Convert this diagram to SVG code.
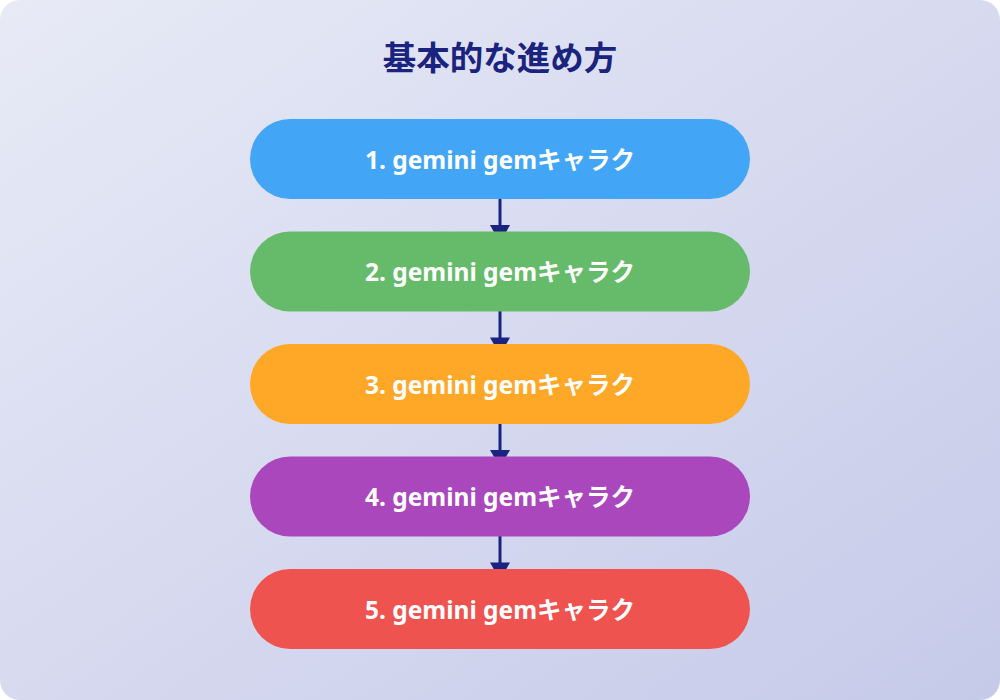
<svg xmlns="http://www.w3.org/2000/svg" width="1000" height="700" viewBox="0 0 1000 700">
<defs>
<linearGradient id="bg" x1="0" y1="0" x2="1" y2="1">
<stop offset="0" stop-color="#e8eaf6"/>
<stop offset="1" stop-color="#c5cae9"/>
</linearGradient>
<style>
.node rect{rx:40px}
.lbl{font-family:"Noto Sans","Noto Sans CJK JP",sans-serif;font-weight:700;font-size:24.5px;fill:#ffffff;text-anchor:middle;dominant-baseline:central}
.title{font-family:"Noto Sans CJK JP","Noto Sans",sans-serif;font-weight:700;font-size:33.5px;fill:#1a237e;text-anchor:middle;dominant-baseline:central}
.conn line{stroke:#1a237e;stroke-width:3}
.conn polygon{fill:#1a237e}
</style>
</defs>
<rect x="0" y="0" width="1000" height="700" fill="#ffffff"/>
<rect x="0" y="0" width="1000" height="700" rx="20" fill="url(#bg)"/>
<text class="title" x="500" y="55">基本的な進め方</text>
<g id="connectors" class="conn">
<line x1="500" y1="199" x2="500" y2="226"/><polygon points="490,225 510,225 500,243"/>
<line x1="500" y1="311" x2="500" y2="338"/><polygon points="490,337.5 510,337.5 500,355"/>
<line x1="500" y1="424" x2="500" y2="451"/><polygon points="490,450 510,450 500,467"/>
<line x1="500" y1="536" x2="500" y2="563"/><polygon points="490,562.5 510,562.5 500,580"/>
</g>
<g id="node1" class="node"><rect x="250" y="119" width="500" height="80" fill="#42a5f5"/><text class="lbl" x="500" y="159">1. gemini gemキャラク</text></g>
<g id="node2" class="node"><rect x="250" y="231.5" width="500" height="80" fill="#66bb6a"/><text class="lbl" x="500" y="271.5">2. gemini gemキャラク</text></g>
<g id="node3" class="node"><rect x="250" y="344" width="500" height="80" fill="#ffa726"/><text class="lbl" x="500" y="384">3. gemini gemキャラク</text></g>
<g id="node4" class="node"><rect x="250" y="456.5" width="500" height="80" fill="#ab47bc"/><text class="lbl" x="500" y="496.5">4. gemini gemキャラク</text></g>
<g id="node5" class="node"><rect x="250" y="569" width="500" height="80" fill="#ef5350"/><text class="lbl" x="500" y="609">5. gemini gemキャラク</text></g>
</svg>
